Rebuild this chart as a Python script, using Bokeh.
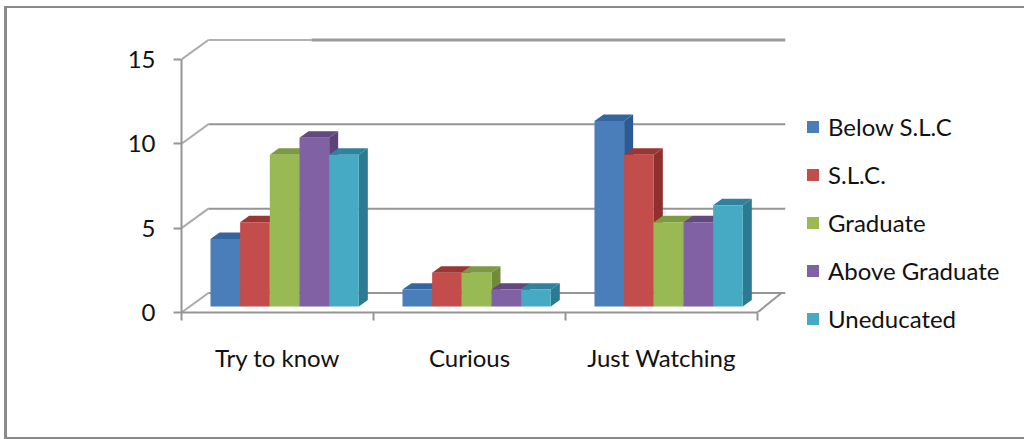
from bokeh.embed import file_html
from bokeh.resources import INLINE
from bokeh.plotting import figure
from bokeh.models import FixedTicker, Legend, LegendItem, LinearAxis, Range1d

categories = ["Try to know", "Curious", "Just Watching"]
series_names = ["Below S.L.C", "S.L.C.", "Graduate", "Above Graduate", "Uneducated"]
below_slc = [4, 1, 11]
slc = [5, 2, 9]
graduate = [9, 2, 5]
above_graduate = [10, 1, 5]
uneducated = [9, 1, 6]
series_values = [below_slc, slc, graduate, above_graduate, uneducated]
y_ticks = [0, 5, 10, 15]

front_colors = ["#4a7ebb", "#c24d4a", "#98b954", "#8062a4", "#46aac5"]
side_colors = ["#2c5a92", "#8f2f2e", "#708c3a", "#5b4379", "#2a7a91"]
top_colors = ["#33669f", "#9a3634", "#7d9a42", "#62497f", "#2f829c"]

GRID = "#959595"
FONT = "Lato"
TEXT_SIZE = "24px"
TEXT_COLOR = "#111111"

# pseudo-3D geometry, in axis units
WALL_DX, WALL_DY = 0.14, 1.156      # floor depth
BAR_DX, BAR_DY = 0.047, 0.385       # bar depth
BAR_X0, BAR_W = 0.151, 0.1545       # first bar inset and bar width
BAR_Y0 = 0.356                      # bar base above the front floor edge
X_END, Y_END = 3.146, 16.42

# the chart box is the figure itself: ruled on three sides, open to the right
BOX_LEFT, BOX_TOP, BOX_RIGHT, BOX_BOTTOM = 4, 6, 1024, 439
p = figure(output_backend="svg", toolbar_location=None,
           frame_width=604, frame_height=277,
           x_range=Range1d(0, X_END), y_range=Range1d(0, Y_END),
           x_axis_location=None, y_axis_location=None,
           min_border_left=181 - BOX_LEFT, min_border_right=BOX_RIGHT - 785,
           min_border_top=35 - BOX_TOP, min_border_bottom=BOX_BOTTOM - 312)
p.margin = (BOX_TOP, 0, 0, BOX_LEFT)
p.grid.visible = False
p.outline_line_color = None
p.background_fill_color = "white"
p.border_fill_color = None
p.styles = {"box-shadow": "inset 3px 2px 0 0 #8a8a8a, inset 0 -2px 0 0 #8a8a8a"}

# back wall gridlines with their slanted returns towards the value axis
for v in y_ticks:
    p.line([0, WALL_DX], [v, v + WALL_DY], line_color=GRID, line_width=2, line_alpha=0.8)
    if v == y_ticks[-1]:
        split = (311 - 181) / 192
        p.line([WALL_DX, split], [v + WALL_DY] * 2, line_color="#b0b0b0", line_width=2)
        p.line([split, X_END], [v + WALL_DY] * 2, line_color="#999999", line_width=3)
    else:
        p.line([WALL_DX, X_END], [v + WALL_DY] * 2, line_color=GRID, line_width=2)
p.line([3, 3 + WALL_DX - 0.015], [0, WALL_DY], line_color=GRID, line_width=2)

# bars, drawn left to right so each one hides the side of its neighbour
items = []
for s, (name, vals) in enumerate(zip(series_names, series_values)):
    fx, fy, sx, sy, tx, ty = [], [], [], [], [], []
    for c, v in enumerate(vals):
        x0 = c + BAR_X0 + s * BAR_W
        x1 = x0 + BAR_W
        y0 = BAR_Y0
        y1 = BAR_Y0 + v
        fx.append([x0, x1, x1, x0])
        fy.append([y0, y0, y1, y1])
        sx.append([x1, x1 + BAR_DX, x1 + BAR_DX, x1])
        sy.append([y0, y0 + BAR_DY, y1 + BAR_DY, y1])
        tx.append([x0, x1, x1 + BAR_DX, x0 + BAR_DX])
        ty.append([y1, y1, y1 + BAR_DY, y1 + BAR_DY])
    p.patches(sx, sy, fill_color=side_colors[s], line_color=None)
    p.patches(tx, ty, fill_color=top_colors[s], line_color=None)
    front = p.patches(fx, fy, fill_color=front_colors[s], line_color=None)
    items.append(LegendItem(label=name, renderers=[front]))

# value axis
y_axis = LinearAxis(ticker=FixedTicker(ticks=y_ticks), bounds=(0, 15))
y_axis.axis_line_color = GRID
y_axis.axis_line_width = 2
y_axis.major_tick_line_color = GRID
y_axis.major_tick_line_width = 2
y_axis.major_tick_out = 8
y_axis.major_tick_in = 0
y_axis.minor_tick_line_color = None
y_axis.major_label_standoff = 18
y_axis.major_label_text_font = FONT
y_axis.major_label_text_font_size = TEXT_SIZE
y_axis.major_label_text_color = TEXT_COLOR
p.add_layout(y_axis, "left")

# category axis: tick marks between groups, labels at the group centres
centres = [i + 0.5 for i in range(len(categories))]
x_axis = LinearAxis(ticker=FixedTicker(ticks=centres, minor_ticks=list(range(len(categories) + 1))),
                    bounds=(0, 3))
x_axis.major_label_overrides = dict(zip(centres, categories))
x_axis.axis_line_color = GRID
x_axis.axis_line_width = 2
x_axis.major_tick_line_color = None
x_axis.minor_tick_line_color = GRID
x_axis.minor_tick_line_width = 2
x_axis.minor_tick_out = 8
x_axis.minor_tick_in = 0
x_axis.major_tick_out = 0
x_axis.major_tick_in = 0
x_axis.major_label_standoff = 22
x_axis.major_label_text_font = FONT
x_axis.major_label_text_font_size = TEXT_SIZE
x_axis.major_label_text_color = TEXT_COLOR
p.add_layout(x_axis, "below")

legend = Legend(items=items, location=(20, -21), orientation="vertical",
                border_line_color=None, background_fill_alpha=0,
                glyph_width=15, glyph_height=15, label_width=20, label_height=20,
                spacing=19, padding=0, margin=22, label_standoff=8,
                label_text_font=FONT, label_text_font_size=TEXT_SIZE,
                label_text_color=TEXT_COLOR)
p.add_layout(legend, "right")

open("out.html", "w").write(file_html(p, INLINE))
